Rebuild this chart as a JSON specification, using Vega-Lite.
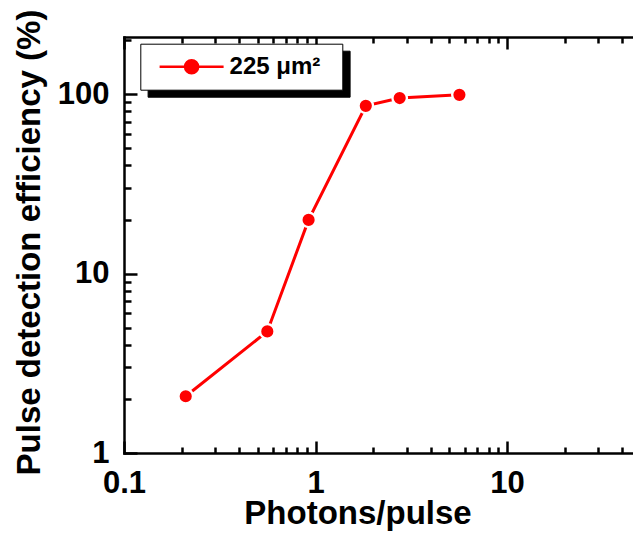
{
  "$schema": "https://vega.github.io/schema/vega-lite/v6.json",
  "autosize": {"type": "none"},
  "padding": {"left": 124, "top": 37, "right": 0, "bottom": 83},
  "width": 510,
  "height": 416,
  "background": "white",
  "config": {
    "view": {"stroke": null},
    "axis": {
      "domainColor": "black", "domainWidth": 2.5, "domainCap": "square",
      "tickColor": "black", "tickWidth": 2.5, "grid": false,
      "labelFont": "Liberation Sans", "labelFontWeight": "bold", "labelFontSize": 31, "labelColor": "black",
      "labelFlush": false, "labelOverlap": false,
      "titleFont": "Liberation Sans", "titleFontWeight": "bold", "titleFontSize": 33, "titleColor": "black"
    },
    "legend": {
      "labelFont": "Liberation Sans", "labelFontWeight": "bold", "labelFontSize": 24, "labelColor": "black",
      "titleFont": "Liberation Sans", "titleFontSize": 8, "titleOrient": "right", "titlePadding": 8
    }
  },
  "data": {
    "values": [
      {"photons": 0.21, "eff": 2.07},
      {"photons": 0.56, "eff": 4.76},
      {"photons": 0.92, "eff": 19.9},
      {"photons": 1.83, "eff": 86},
      {"photons": 2.75, "eff": 95},
      {"photons": 5.64, "eff": 99}
    ]
  },
  "resolve": {"axis": {"x": "independent", "y": "independent"}},
  "layer": [
    {
      "mark": {"type": "point", "opacity": 0},
      "encoding": {
        "x": {"field": "photons", "type": "quantitative", "scale": {"type": "log", "domain": [0.1, 46], "nice": false}, "axis": null},
        "y": {"field": "eff", "type": "quantitative", "scale": {"type": "log", "domain": [1, 208], "nice": false}, "axis": null},
        "shape": {
          "datum": "shadow",
          "legend": {
            "orient": "none", "legendX": 23.6, "legendY": 13.7, "title": "i", "titleColor": "black",
            "fillColor": "black", "strokeColor": "black", "padding": 11,
            "labelExpr": "'225 μm²'", "labelColor": "black",
            "symbolOffset": 28.3, "labelOffset": 26,
            "symbolSize": 256, "symbolStrokeWidth": 2.5, "symbolOpacity": 0,
            "symbolFillColor": "black", "symbolStrokeColor": "black"
          }
        }
      }
    },
    {
      "mark": {"type": "line", "color": "#ff0000", "strokeWidth": 3},
      "encoding": {
        "x": {"field": "photons", "type": "quantitative", "scale": {"type": "log", "domain": [0.1, 46], "nice": false},
          "axis": {"orient": "bottom", "values": [0.1, 1, 10], "format": "~g", "tickSize": -12, "labelPadding": 27,
            "title": "Photons/pulse", "titleX": 233.5, "titleY": 70, "titleBaseline": "alphabetic", "titleAlign": "center"}},
        "y": {"field": "eff", "type": "quantitative", "scale": {"type": "log", "domain": [1, 208], "nice": false},
          "axis": {"orient": "left", "values": [1, 10, 100], "format": "~g", "tickSize": -13, "labelPadding": 28,
            "title": "Pulse detection efficiency (%)", "titleX": -85, "titleY": 205, "titleBaseline": "alphabetic", "titleAlign": "center", "titleAngle": 270}}
      }
    },
    {
      "mark": {"type": "point", "filled": true, "size": 210, "stroke": "white", "strokeWidth": 2.35, "opacity": 1},
      "encoding": {
        "x": {"field": "photons", "type": "quantitative", "scale": {"type": "log", "domain": [0.1, 46], "nice": false},
          "axis": {"orient": "bottom", "values": [0.2, 0.3, 0.4, 0.5, 0.6, 0.7, 0.8, 0.9, 2, 3, 4, 5, 6, 7, 8, 9, 20, 30, 40], "labels": false, "domain": false, "tickSize": -6, "title": null}},
        "y": {"field": "eff", "type": "quantitative", "scale": {"type": "log", "domain": [1, 208], "nice": false},
          "axis": {"orient": "left", "values": [2, 3, 4, 5, 6, 7, 8, 9, 20, 30, 40, 50, 60, 70, 80, 90, 200], "labels": false, "domain": false, "tickSize": -7, "title": null}},
        "color": {
          "datum": "225 μm²",
          "scale": {"range": ["#ff0000"]},
          "legend": {
            "orient": "none", "legendX": 16.3, "legendY": 6.7, "title": "i", "titleColor": "white",
            "fillColor": "white", "strokeColor": "black", "padding": 11,
            "symbolOffset": 28.3, "labelOffset": 26,
            "symbolType": "M-4,0L4,0M-0.82,0A0.82,0.82,0,1,1,0.82,0A0.82,0.82,0,1,1,-0.82,0Z",
            "symbolSize": 256, "symbolStrokeWidth": 2.5, "symbolOpacity": 1,
            "symbolFillColor": "#ff0000", "symbolStrokeColor": "#ff0000"
          }
        }
      }
    },
    {
      "mark": {"type": "point", "opacity": 0},
      "encoding": {
        "x": {"field": "photons", "type": "quantitative", "scale": {"type": "log", "domain": [0.1, 46], "nice": false},
          "axis": {"orient": "top", "values": [0.1, 1, 10], "labels": false, "tickSize": -12, "title": null}},
        "y": {"field": "eff", "type": "quantitative", "scale": {"type": "log", "domain": [1, 208], "nice": false}, "axis": null}
      }
    },
    {
      "mark": {"type": "point", "opacity": 0},
      "encoding": {
        "x": {"field": "photons", "type": "quantitative", "scale": {"type": "log", "domain": [0.1, 46], "nice": false},
          "axis": {"orient": "top", "values": [0.2, 0.3, 0.4, 0.5, 0.6, 0.7, 0.8, 0.9, 2, 3, 4, 5, 6, 7, 8, 9, 20, 30, 40], "labels": false, "domain": false, "tickSize": -6, "title": null}},
        "y": {"field": "eff", "type": "quantitative", "scale": {"type": "log", "domain": [1, 208], "nice": false}, "axis": null}
      }
    }
  ]
}
